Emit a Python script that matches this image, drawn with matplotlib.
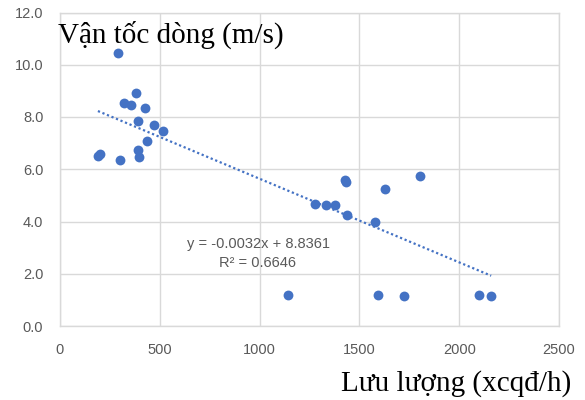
import numpy as np
import matplotlib
matplotlib.use('Agg')
import matplotlib.pyplot as plt

# luu luong (xcqd/h) va van toc dong (m/s)
flow = [290, 380, 320, 355, 425, 390, 470, 515, 435, 390, 200, 190, 300, 395,
        1430, 1435, 1805, 1630, 1280, 1335, 1380, 1440, 1580,
        1140, 1595, 1725, 2100, 2160]
speed = [10.45, 8.9, 8.55, 8.45, 8.35, 7.85, 7.7, 7.45, 7.1, 6.75, 6.6, 6.5, 6.35, 6.45,
         5.6, 5.5, 5.75, 5.25, 4.68, 4.63, 4.63, 4.25, 3.98,
         1.2, 1.2, 1.15, 1.2, 1.15]

slope = -0.0032
intercept = 8.8361
r2 = 0.6646

x_ticks = [0, 500, 1000, 1500, 2000, 2500]
y_ticks = [0, 2, 4, 6, 8, 10, 12]

blue = '#4472C4'
grey = '#595959'

fig = plt.figure(figsize=(5.85, 4.0), dpi=100)
ax = fig.add_axes([60 / 585, 1 - 326 / 400, 499 / 585, 313.5 / 400])

ax.scatter(flow, speed, s=50, color=blue, zorder=3, linewidths=0)

xt = np.array([min(flow), max(flow)])
ax.plot(xt, slope * xt + intercept, color=blue, linestyle=(0, (1, 1.2)), lw=1.6, zorder=2)

ax.set_xlim(0, 2500)
ax.set_ylim(0, 12)
ax.set_xticks(x_ticks)
ax.set_yticks(y_ticks)
ax.set_yticklabels(['%.1f' % v for v in y_ticks])
ax.tick_params(length=0, labelsize=10.5, colors=grey, pad=12)
for lab in ax.get_xticklabels() + ax.get_yticklabels():
    lab.set_family('Liberation Sans')
ax.grid(True, color='#d9d9d9', lw=1)
ax.set_axisbelow(True)
for s in ax.spines.values():
    s.set_color('#d9d9d9')
    s.set_linewidth(1)

ax.text(995, 3.13, 'y = %.4fx + %.4f' % (slope, intercept), ha='center', va='center',
        fontsize=10.5, color=grey, family='Liberation Sans')
ax.text(990, 2.41, 'R² = %.4f' % r2, ha='center', va='center',
        fontsize=10.5, color=grey, family='Liberation Sans')

fig.text(58 / 585, 1 - 43 / 400, 'Vận tốc dòng (m/s)', ha='left', va='baseline',
         fontsize=21, family='Liberation Serif', color='black')
fig.text(571 / 585, 1 - 391 / 400, 'Lưu lượng (xcqđ/h)', ha='right', va='baseline',
         fontsize=21, family='Liberation Serif', color='black')

fig.savefig('out.png', dpi=100, facecolor='white')
